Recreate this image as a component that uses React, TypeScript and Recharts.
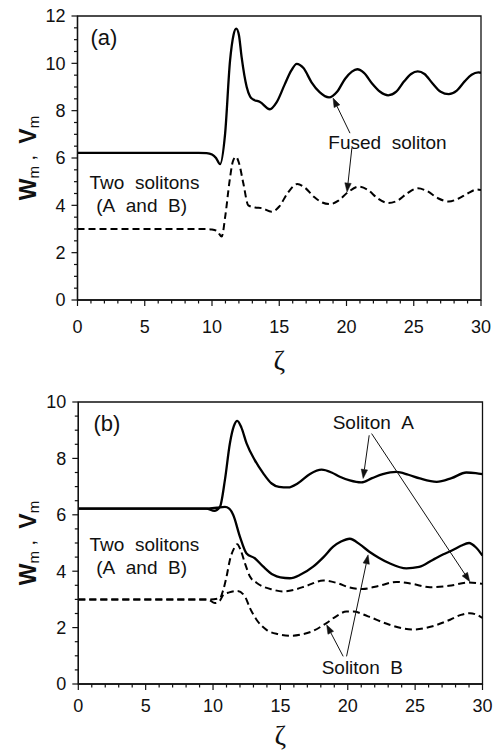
import React from 'react';
import { LineChart, Line, XAxis, YAxis, ReferenceArea, ReferenceLine, ReferenceDot, Label } from 'recharts';

// ---------- Panel (a) data ----------
const aSolidX = [0, 9, 9.6, 10.0, 10.3, 10.6, 10.97, 11.34, 11.6, 11.8, 12.0, 12.2, 12.58, 12.83, 13.07, 13.57, 14.3, 14.8, 15.4, 15.9, 16.3, 16.8, 17.4, 18.0, 18.7, 19.3, 19.9, 20.4, 20.8, 21.3, 21.9, 22.5, 23.1, 23.7, 24.3, 24.8, 25.3, 25.8, 26.4, 27.0, 27.6, 28.2, 28.8, 29.3, 29.8, 30];
const aSolidY = [6.22, 6.22, 6.21, 6.15, 6.0, 5.74, 7.0, 10.1, 11.2, 11.47, 11.2, 10.27, 9.0, 8.6, 8.47, 8.37, 8.06, 8.35, 9.1, 9.7, 9.98, 9.8, 9.2, 8.78, 8.56, 8.8, 9.35, 9.65, 9.75, 9.6, 9.15, 8.8, 8.65, 8.8, 9.25, 9.55, 9.66, 9.55, 9.15, 8.8, 8.7, 8.85, 9.25, 9.52, 9.62, 9.6];
const aDashX = [0, 9.5, 10.0, 10.4, 10.72, 11.0, 11.3, 11.55, 11.78, 12.0, 12.33, 12.7, 13.2, 13.7, 14.44, 15.0, 15.6, 16.34, 16.9, 17.6, 18.2, 18.77, 19.4, 20.1, 20.9, 21.6, 22.3, 23.1, 23.8, 24.5, 25.3, 26.0, 26.8, 27.6, 28.3, 29.0, 29.7, 30];
const aDashY = [3.0, 3.0, 2.98, 2.9, 2.68, 3.6, 5.0, 5.85, 6.05, 5.8, 4.93, 4.0, 3.91, 3.88, 3.73, 3.95, 4.5, 4.9, 4.75, 4.35, 4.12, 4.05, 4.2, 4.55, 4.79, 4.65, 4.3, 4.1, 4.2, 4.5, 4.72, 4.6, 4.3, 4.16, 4.28, 4.5, 4.67, 4.65];

// ---------- Panel (b) data ----------
const bSolAX = [0, 9.5, 10.1, 10.51, 10.88, 11.25, 11.55, 11.8, 12.1, 12.49, 13.1, 13.73, 14.35, 14.9, 15.58, 16.3, 17.2, 18.06, 18.8, 19.41, 20.15, 21.0, 21.8, 22.6, 23.6, 24.5, 25.35, 26.6, 27.7, 28.8, 29.5, 30];
const bSolAY = [6.22, 6.22, 6.14, 6.28, 7.23, 8.53, 9.15, 9.33, 9.1, 8.53, 7.94, 7.47, 7.11, 6.99, 6.97, 7.12, 7.45, 7.6, 7.5, 7.35, 7.22, 7.15, 7.3, 7.44, 7.52, 7.42, 7.29, 7.17, 7.3, 7.5, 7.48, 7.44];
const bSolBX = [0, 9.5, 10.3, 10.88, 11.2, 11.5, 12.0, 12.49, 13.1, 13.73, 14.47, 15.0, 15.7, 16.5, 17.43, 18.2, 18.92, 19.5, 20.15, 20.9, 21.6, 22.3, 23.1, 24.35, 25.3, 26.3, 27.1, 27.8, 28.4, 29.0, 29.5, 30];
const bSolBY = [6.22, 6.22, 6.25, 6.28, 6.22, 5.99, 5.22, 4.63, 4.46, 4.16, 3.87, 3.78, 3.75, 3.88, 4.16, 4.5, 4.87, 5.05, 5.15, 4.95, 4.69, 4.48, 4.28, 4.1, 4.15, 4.4, 4.6, 4.75, 4.9, 5.0, 4.85, 4.55];
const bDashAX = [0, 9.8, 10.5, 10.76, 11.0, 11.25, 11.55, 11.8, 12.05, 12.37, 12.74, 13.2, 13.73, 14.4, 15.2, 16.1, 16.94, 18.18, 19.2, 20.15, 21.1, 22.3, 23.6, 24.8, 26.1, 27.5, 29.0, 30];
const bDashAY = [3.0, 3.0, 3.04, 3.34, 3.8, 4.4, 4.8, 4.96, 4.75, 4.28, 3.81, 3.6, 3.45, 3.35, 3.28, 3.35, 3.48, 3.67, 3.58, 3.42, 3.37, 3.48, 3.62, 3.55, 3.43, 3.48, 3.6, 3.55];
const bDashBX = [0, 9.6, 10.14, 10.5, 10.76, 11.2, 11.8, 12.37, 12.74, 13.23, 13.97, 14.8, 15.83, 16.6, 17.31, 18.42, 19.2, 19.9, 20.4, 21.5, 23.1, 24.86, 26.3, 27.6, 28.4, 29.06, 29.6, 30];
const bDashBY = [3.0, 3.0, 2.87, 2.95, 3.16, 3.25, 3.3, 3.1, 2.69, 2.28, 1.92, 1.77, 1.71, 1.76, 1.86, 2.16, 2.42, 2.57, 2.57, 2.4, 2.1, 1.93, 2.05, 2.28, 2.45, 2.51, 2.45, 2.34];

// ---------- ticks ----------
const xTicks = Array.from({ length: 31 }, (_, i) => i);
const yTicksA = Array.from({ length: 25 }, (_, i) => i * 0.5);
const yTicksB = Array.from({ length: 21 }, (_, i) => i * 0.5);

// ---------- annotations (data coordinates) ----------
const NB = '\u00A0';
const annotTextA = [
  { x: 1.97, y: 11.1, text: '(a)', size: 22 },
  { x: 23.05, y: 6.67, text: `Fused${NB}${NB}soliton`, size: 19 },
  { x: 4.98, y: 4.98, text: `Two${NB}${NB}solitons`, size: 19 },
  { x: 4.77, y: 4.01, text: `(A${NB}${NB}and${NB}${NB}B)`, size: 19 },
];
const annotArrowsA = [
  { x1: 20.26, y1: 7.05, x2: 19.0, y2: 8.53 },
  { x1: 20.4, y1: 6.42, x2: 20.04, y2: 4.56 },
];
const annotTextB = [
  { x: 2.13, y: 9.25, text: '(b)', size: 22 },
  { x: 21.9, y: 9.28, text: `Soliton${NB}${NB}A`, size: 19 },
  { x: 21.08, y: 0.58, text: `Soliton${NB}${NB}B`, size: 19 },
  { x: 4.91, y: 4.96, text: `Two${NB}${NB}solitons`, size: 19 },
  { x: 4.7, y: 4.15, text: `(A${NB}${NB}and${NB}${NB}B)`, size: 19 },
];
const annotArrowsB = [
  { x1: 21.59, y1: 8.82, x2: 21.14, y2: 7.29 },
  { x1: 21.77, y1: 8.88, x2: 29.06, y2: 3.63 },
  { x1: 19.66, y1: 0.98, x2: 18.43, y2: 2.1 },
  { x1: 19.91, y1: 0.98, x2: 21.51, y2: 4.58 },
];

const zip = (xs: number[], ys: number[]) => xs.map((x, i) => ({ x, y: ys[i] }));

const SANS = 'Liberation Sans, Arial, Helvetica, sans-serif';
const INK = '#111';

const makeXTick = (labelDy: number) => (props: any) => {
  const { x, y, payload } = props;
  const v = payload.value;
  const major = Math.abs(v / 5 - Math.round(v / 5)) < 1e-6;
  return (
    <g>
      <line x1={x} x2={x} y1={y} y2={y + (major ? 6 : 3.5)} stroke={INK} strokeWidth={1.2} />
      {major && (
        <text x={x} y={y + labelDy} textAnchor="middle" fontSize={18} fontFamily={SANS} fill={INK}>
          {v}
        </text>
      )}
    </g>
  );
};

const YTick = (props: any) => {
  const { x, y, payload } = props;
  const v = payload.value;
  const major = Math.abs(v / 2 - Math.round(v / 2)) < 1e-6;
  return (
    <g>
      <line x1={x} x2={x - (major ? 6 : 3.5)} y1={y} y2={y} stroke={INK} strokeWidth={1.2} />
      {major && (
        <text x={x - 12} y={y} dy="0.36em" textAnchor="end" fontSize={18} fontFamily={SANS} fill={INK}>
          {v}
        </text>
      )}
    </g>
  );
};

const makeYLabel = (offX: number) => (props: any) => {
  const vb = props.viewBox || { x: 0, y: 0, width: 0, height: 0 };
  const cx = vb.x + offX;
  const cy = vb.y + vb.height / 2;
  return (
    <text
      x={cx}
      y={cy}
      transform={`rotate(-90 ${cx} ${cy})`}
      textAnchor="middle"
      dominantBaseline="central"
      fontFamily={SANS}
      fill={INK}
    >
      <tspan fontSize={23} fontWeight="bold">W</tspan>
      <tspan fontSize={15} dy={5}>m</tspan>
      <tspan fontSize={20} dy={-5}>{`${NB},${NB}${NB}`}</tspan>
      <tspan fontSize={23} fontWeight="bold">V</tspan>
      <tspan fontSize={15} dy={5}>m</tspan>
    </text>
  );
};

const makeXLabel = (dyBase: number) => (props: any) => {
  const vb = props.viewBox || { x: 0, y: 0, width: 0, height: 0 };
  return (
    <text x={vb.x + vb.width / 2} y={vb.y + dyBase} textAnchor="middle" fontSize={28} fontFamily="Liberation Serif, DejaVu Serif, serif" fill={INK}>
      ζ
    </text>
  );
};

const ArrowShape = (p: any) => {
  const { x1, y1, x2, y2 } = p;
  if ([x1, y1, x2, y2].some((v) => typeof v !== 'number' || isNaN(v))) return <g />;
  const ang = Math.atan2(y2 - y1, x2 - x1);
  const L = 9;
  const W = 3.2;
  const bx = x2 - L * Math.cos(ang);
  const by = y2 - L * Math.sin(ang);
  const px = -Math.sin(ang) * W;
  const py = Math.cos(ang) * W;
  return (
    <g>
      <line x1={x1} y1={y1} x2={bx} y2={by} stroke={INK} strokeWidth={1} />
      <polygon points={`${x2},${y2} ${bx + px},${by + py} ${bx - px},${by - py}`} fill={INK} stroke={INK} strokeWidth={0.5} />
    </g>
  );
};

type PanelProps = {
  top: number;
  height: number;
  margin: { top: number; right: number; bottom: number; left: number };
  yAxisWidth: number;
  yMax: number;
  yTicks: number[];
  solids: { x: number; y: number }[][];
  dashes: { x: number; y: number }[][];
  texts: { x: number; y: number; text: string; size: number }[];
  arrows: { x1: number; y1: number; x2: number; y2: number }[];
  tickLabelDy: number;
  zetaDy: number;
};

const Panel = (p: PanelProps) => (
  <div style={{ position: 'absolute', left: 0, top: p.top, width: 500, height: p.height }}>
    <LineChart width={500} height={p.height} margin={p.margin}>
      <XAxis
        type="number"
        dataKey="x"
        domain={[0, 30]}
        ticks={xTicks}
        interval={0}
        allowDataOverflow
        height={40}
        tickLine={false}
        tickSize={0}
        tickMargin={0}
        tick={makeXTick(p.tickLabelDy)}
        axisLine={{ stroke: INK, strokeWidth: 1.3 }}
      >
        <Label content={makeXLabel(p.zetaDy)} />
      </XAxis>
      <YAxis
        type="number"
        dataKey="y"
        domain={[0, p.yMax]}
        ticks={p.yTicks}
        interval={0}
        allowDataOverflow
        width={p.yAxisWidth}
        tickLine={false}
        tickSize={0}
        tickMargin={0}
        tick={YTick}
        axisLine={{ stroke: INK, strokeWidth: 1.3 }}
      >
        <Label content={makeYLabel(28)} />
      </YAxis>
      <ReferenceArea x1={0} x2={30} y1={0} y2={p.yMax} fill="none" fillOpacity={0} stroke={INK} strokeWidth={1.3} />
      {p.solids.map((d, i) => (
        <Line
          key={'s' + i}
          data={d}
          dataKey="y"
          type="monotone"
          stroke="#000"
          strokeWidth={2.3}
          dot={false}
          activeDot={false}
          isAnimationActive={false}
        />
      ))}
      {p.dashes.map((d, i) => (
        <Line
          key={'d' + i}
          data={d}
          dataKey="y"
          type="monotone"
          stroke="#000"
          strokeWidth={2}
          strokeDasharray="7 4"
          dot={false}
          activeDot={false}
          isAnimationActive={false}
        />
      ))}
      {p.arrows.map((a, i) => (
        <ReferenceLine
          key={'a' + i}
          segment={[
            { x: a.x1, y: a.y1 },
            { x: a.x2, y: a.y2 },
          ]}
          stroke={INK}
          shape={ArrowShape}
        />
      ))}
      {p.texts.map((t, i) => (
        <ReferenceDot
          key={'t' + i}
          x={t.x}
          y={t.y}
          r={0}
          fill="none"
          stroke="none"
          label={{
            value: t.text,
            position: 'center',
            fontSize: t.size,
            fontFamily: SANS,
            fill: INK,
          }}
        />
      ))}
    </LineChart>
  </div>
);

export default function App() {
  return (
    <div style={{ position: 'absolute', left: 0, top: 0, width: 500, height: 752, background: '#fff', overflow: 'hidden' }}>
      <Panel
        top={0}
        height={380}
        margin={{ top: 16, right: 19, bottom: 40, left: 0 }}
        yAxisWidth={77.5}
        yMax={12}
        yTicks={yTicksA}
        solids={[zip(aSolidX, aSolidY)]}
        dashes={[zip(aDashX, aDashY)]}
        texts={annotTextA}
        arrows={annotArrowsA}
        tickLabelDy={33}
        zetaDy={70}
      />
      <Panel
        top={385}
        height={367}
        margin={{ top: 17, right: 17.5, bottom: 28, left: 0 }}
        yAxisWidth={78.3}
        yMax={10}
        yTicks={yTicksB}
        solids={[zip(bSolAX, bSolAY), zip(bSolBX, bSolBY)]}
        dashes={[zip(bDashAX, bDashAY), zip(bDashBX, bDashBY)]}
        texts={annotTextB}
        arrows={annotArrowsB}
        tickLabelDy={28}
        zetaDy={61}
      />
    </div>
  );
}
